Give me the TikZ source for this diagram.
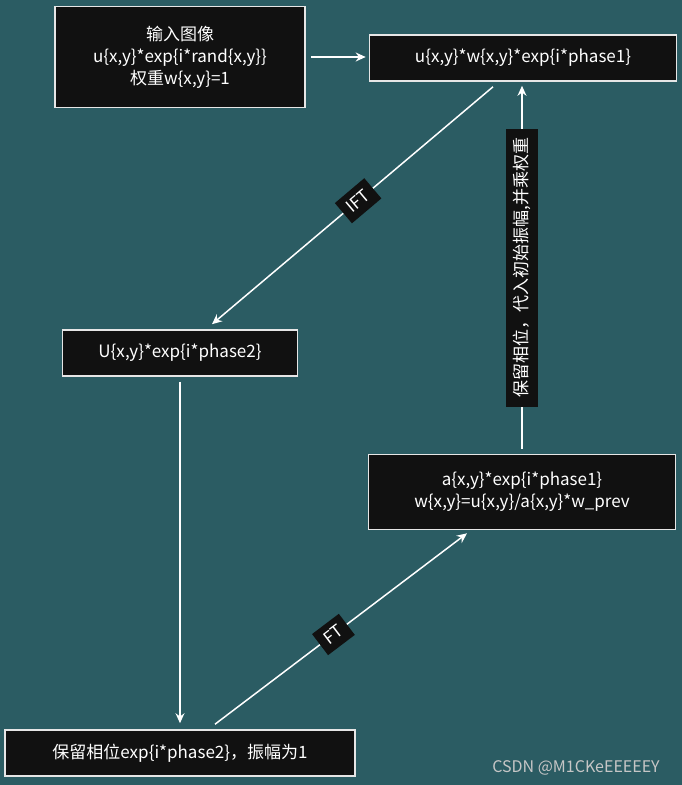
\documentclass[tikz,border=0pt]{standalone}
\usepackage{fontspec}
\setmainfont{Noto Sans CJK SC}
\usetikzlibrary{arrows.meta}
\definecolor{bgteal}{HTML}{2B5C63}
\definecolor{boxblack}{HTML}{111111}
\definecolor{edgewhite}{HTML}{E6E6E6}
\begin{document}
\begin{tikzpicture}[x=1pt,y=-1pt,
    box/.style={draw=edgewhite, line width=1.6pt, fill=boxblack, text=white,
        align=center, inner sep=0pt, font=\fontsize{17}{22}\selectfont},
    flow/.style={draw=white, line width=1.5pt, -{Stealth[length=10pt,width=9pt]}},
    tag/.style={fill=boxblack, text=white, inner xsep=7pt, inner ysep=7pt, font=\fontsize{17}{20}\selectfont}]
    % Fundo
    \useasboundingbox (0,0) rectangle (682,785);
    \fill[bgteal] (0,0) rectangle (682,785);

    % Caixas do ciclo
    \node[box, minimum width=250pt, minimum height=101pt] (input) at (180,57)
        {输入图像\\u\{x,y\}*exp\{i*rand\{x,y\}\}\\权重w\{x,y\}=1};
    \node[box, minimum width=307pt, minimum height=46pt] (weighted) at (523,58)
        {u\{x,y\}*w\{x,y\}*exp\{i*phase1\}};
    \node[box, minimum width=235pt, minimum height=46pt] (spectrum) at (180,353)
        {U\{x,y\}*exp\{i*phase2\}};
    \node[box, minimum width=350pt, minimum height=46pt] (keep) at (180,753)
        {保留相位exp\{i*phase2\}，振幅为1};
    \node[box, minimum width=307pt, minimum height=75pt] (update) at (522,492)
        {a\{x,y\}*exp\{i*phase1\}\\w\{x,y\}=u\{x,y\}/a\{x,y\}*w\_prev};

    % Setas
    \draw[flow, shorten <=5pt, shorten >=3pt] (input.east) -- (weighted.west |- input.east);
    \draw[flow] ([xshift=-30pt,yshift=-5pt]weighted.south) -- ([xshift=32pt,yshift=5pt]spectrum.north)
        node[tag, pos=0.48, sloped] (ift) {IFT};
    \draw[flow, shorten <=5pt, shorten >=6pt] (spectrum.south) -- (keep.north);
    \draw[flow] ([xshift=35pt,yshift=5pt]keep.north) -- ([xshift=-55pt,yshift=-3pt]update.south)
        node[tag, pos=0.47, sloped] (ft) {FT};
    \draw[flow, shorten <=5pt, shorten >=4pt] (update.north) -- (update.north |- weighted.south)
        node[tag, midway, rotate=90, inner xsep=9pt, inner ysep=7pt] (keepamp) {保留相位，代入初始振幅,并乘权重};

    % Marca d'agua
    \node[text=gray!45, font=\fontsize{16}{18}\selectfont] (mark) at (576,768) {CSDN @M1CKeEEEEEY};
\end{tikzpicture}
\end{document}
